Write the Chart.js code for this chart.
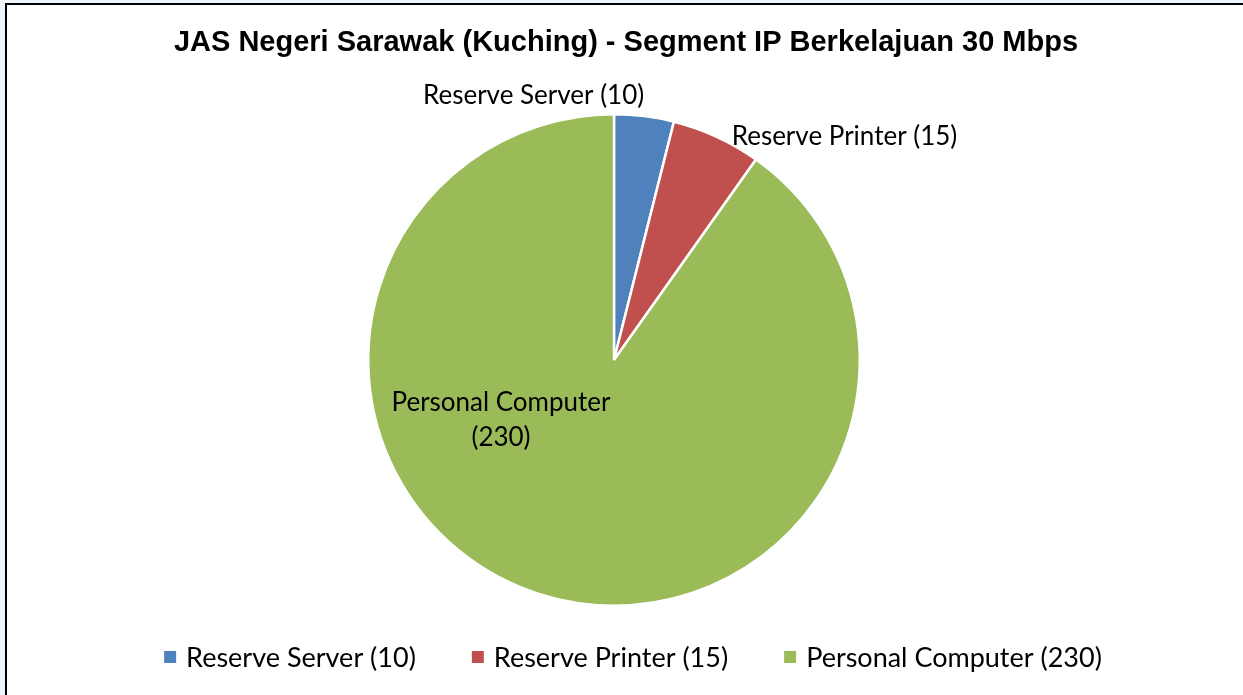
<!DOCTYPE html>
<html>
<head>
<meta charset="utf-8">
<script src="https://cdn.jsdelivr.net/npm/chart.js@4.4.1/dist/chart.umd.min.js"></script>
<style>
  html, body { margin: 0; padding: 0; background: #eef5fa; width: 1243px; height: 695px; overflow: hidden; }
  #frame { position: absolute; left: 5px; top: 3px; width: 1245px; height: 700px; background: #fff;
           border-left: 2px solid #000; border-top: 2px solid #000; }
  #c { position: absolute; left: 0; top: 0; }
</style>
</head>
<body>
<div id="frame"></div>
<canvas id="c" width="1243" height="695"></canvas>
<script>
const titleText = "JAS Negeri Sarawak (Kuching) - Segment IP Berkelajuan 30 Mbps";
const categories = ["Reserve Server (10)", "Reserve Printer (15)", "Personal Computer (230)"];
const values = [10, 15, 230];
const colors = ["#4f81bd", "#c0504d", "#9bbb59"];

const labelFont = "26px Lato";
const legendFont = "27px Lato";

const labelPlugin = {
  id: "excelBits",
  afterDatasetsDraw(chart) {
    const ctx = chart.ctx;
    const arcs = chart.getDatasetMeta(0).data;
    ctx.save();
    ctx.fillStyle = "#000";
    ctx.font = labelFont;
    ctx.textBaseline = "middle";
    // per-slice label placement (offsets from edge point at mid angle)
    const place = [
      {mode: "edge", dx: 0, dy: -21, align: "right"},
      {mode: "edge", dx: 15, dy: 0, align: "left"},
      {mode: "center", dx: -113, dy: 60, align: "center"}
    ];
    arcs.forEach((a, i) => {
      const mid = (a.startAngle + a.endAngle) / 2;
      const p = place[i];
      let x, y;
      if (p.mode === "edge") {
        x = a.x + Math.cos(mid) * a.outerRadius + p.dx;
        y = a.y + Math.sin(mid) * a.outerRadius + p.dy;
      } else {
        x = a.x + p.dx; y = a.y + p.dy;
      }
      ctx.textAlign = p.align;
      const t = categories[i];
      if (i === 2) {
        const m = t.match(/^(.*) (\(.*\))$/);
        ctx.fillText(m[1], x, y - 17);
        ctx.fillText(m[2], x, y + 18);
      } else {
        ctx.fillText(t, x, y);
      }
    });
    // title
    ctx.font = "bold 29px 'Liberation Sans', Arial, sans-serif";
    ctx.textAlign = "center";
    ctx.fillText(titleText, 626, 43);
    // legend
    ctx.font = legendFont;
    const box = 12, gapBT = 10, gap = 56;
    const widths = categories.map(t => ctx.measureText(t).width);
    const total = widths.reduce((s, w) => s + box + gapBT + w, 0) + gap * (categories.length - 1);
    let x = 633 - total / 2;
    const ly = 657;
    categories.forEach((t, i) => {
      ctx.fillStyle = colors[i];
      ctx.fillRect(x, ly - 6, box, box);
      ctx.fillStyle = "#000";
      ctx.textAlign = "left";
      ctx.fillText(t, x + box + gapBT, ly + 1);
      x += box + gapBT + widths[i] + gap;
    });
    ctx.restore();
  }
};

new Chart(document.getElementById("c"), {
  type: "pie",
  data: {
    labels: categories,
    datasets: [{
      data: values,
      backgroundColor: colors,
      borderColor: "#ffffff",
      borderWidth: 2.5
    }]
  },
  options: {
    responsive: false,
    animation: false,
    layout: { padding: { top: 113, bottom: 88, left: 0, right: 15 } },
    plugins: {
      legend: { display: false },
      title: { display: false },
      tooltip: { enabled: false }
    }
  },
  plugins: [labelPlugin]
});
</script>
</body>
</html>
